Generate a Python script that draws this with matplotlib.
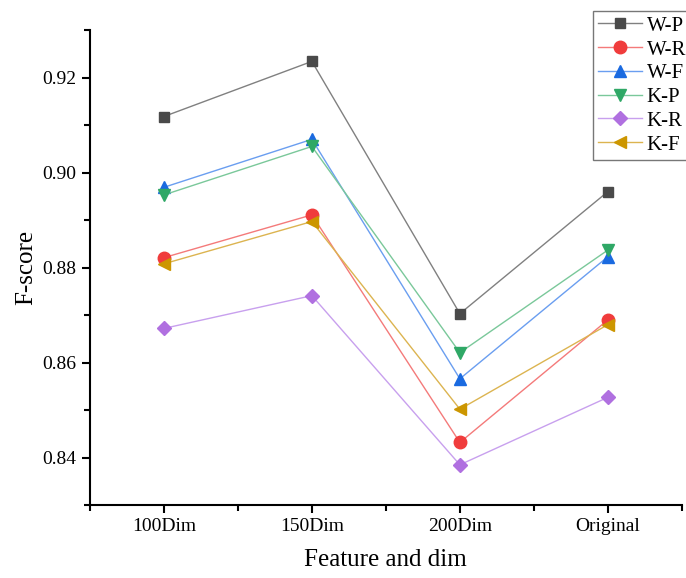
import numpy as np
import matplotlib.pyplot as plt

plt.rcParams['font.family'] = ['Liberation Serif', 'DejaVu Serif']

# categories on the x axis
features = ['100Dim', '150Dim', '200Dim', 'Original']

# F-score values
w_p = [0.9118, 0.9234, 0.8703, 0.8960]
w_r = [0.8821, 0.8911, 0.8432, 0.8690]
w_f = [0.8969, 0.9070, 0.8566, 0.8823]
k_p = [0.8953, 0.9055, 0.8621, 0.8837]
k_r = [0.8672, 0.8741, 0.8385, 0.8527]
k_f = [0.8808, 0.8897, 0.8502, 0.8680]

series = [
    ('W-P', w_p, 's', '#4a4a4a', '#808080'),
    ('W-R', w_r, 'o', '#f03c3c', '#f47a7a'),
    ('W-F', w_f, '^', '#1a6ae0', '#6a9ef0'),
    ('K-P', k_p, 'v', '#2fa866', '#7ac89a'),
    ('K-R', k_r, 'D', '#b070e0', '#c8a0ee'),
    ('K-F', k_f, '<', '#cc9600', '#dcb450'),
]

fig = plt.figure(figsize=(6.86, 5.78), dpi=100)
ax = fig.add_axes([0.131, 0.126, 0.863, 0.822])

x = np.arange(len(features))
for name, vals, mk, mcol, lcol in series:
    ms = 7 if mk in ('s', 'D') else 9
    ax.plot(x, vals, color=lcol, lw=1.0, marker=mk, markersize=ms,
            markerfacecolor=mcol, markeredgecolor=mcol, label=name)

ax.set_xlim(-0.5, 3.5)
ax.set_ylim(0.83, 0.93)
ax.set_xticks(x)
ax.set_xticklabels(features)
ax.set_xticks([-0.5, 0.5, 1.5, 2.5, 3.5], minor=True)
ax.set_yticks([0.84, 0.86, 0.88, 0.90, 0.92])
ax.set_yticks(np.arange(0.83, 0.931, 0.01), minor=True)
ax.yaxis.set_major_formatter(plt.FormatStrFormatter('%.2f'))

for s in ['top', 'right']:
    ax.spines[s].set_visible(False)
for s in ['left', 'bottom']:
    ax.spines[s].set_linewidth(1.5)

ax.tick_params(which='major', direction='out', length=6, width=1.5, labelsize=14)
ax.tick_params(which='minor', direction='out', length=4, width=1.5)

ax.set_xlabel('Feature and dim', fontsize=18, labelpad=10)
ax.set_ylabel('F-score', fontsize=18)

leg = fig.legend(loc='upper left', bbox_to_anchor=(0.864, 0.981), fontsize=15,
                 frameon=True, fancybox=False, edgecolor='#555555',
                 handlelength=2.1, handletextpad=0.25, borderpad=0.25,
                 labelspacing=0.2, borderaxespad=0)
leg.get_frame().set_linewidth(1.0)

fig.savefig('out.png', dpi=100)
